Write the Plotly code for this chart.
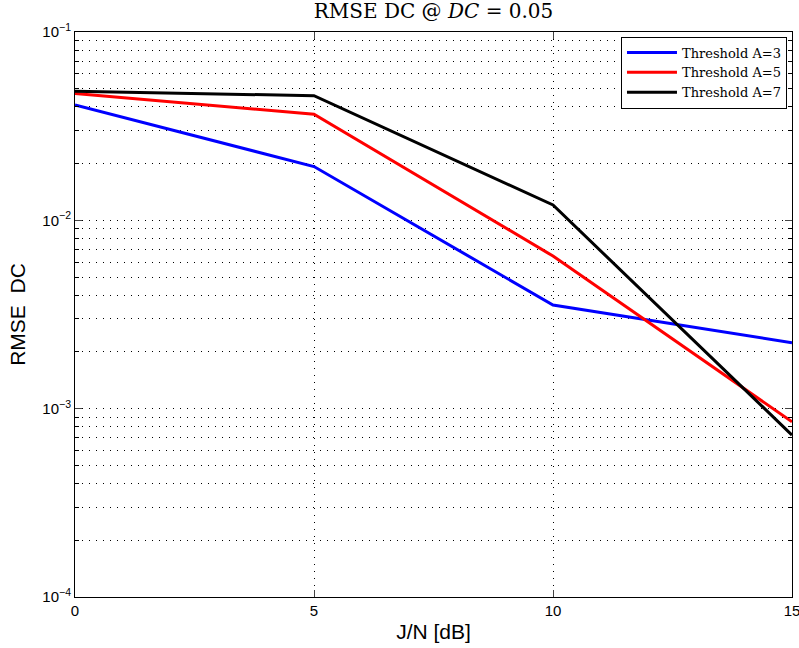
import plotly.graph_objects as go

x_vals = [0, 5, 10, 15]
blue_a3 = [0.0410, 0.0193, 0.00355, 0.00224]
red_a5 = [0.0472, 0.0366, 0.00646, 0.000852]
black_a7 = [0.0484, 0.0459, 0.01206, 0.000724]
series_names = ["Threshold A=3", "Threshold A=5", "Threshold A=7"]
colors = ["#0000ff", "#ff0000", "#000000"]
x_ticks = [0, 5, 10, 15]
y_ticks = [1e-4, 1e-3, 1e-2, 1e-1]
y_tick_text = ["10<sup>−4</sup>", "10<sup>−3</sup>", "10<sup>−2</sup>", "10<sup>−1</sup>"]
y_minor = [m * 10 ** e for e in (-4, -3, -2) for m in range(2, 10)]

fig = go.Figure()
for name, ys, c in zip(series_names, [blue_a3, red_a5, black_a7], colors):
    fig.add_trace(go.Scatter(x=x_vals, y=ys, mode="lines", name=name,
                             line=dict(color=c, width=3)))

grid_dash = "1px 6px"
serif = "DejaVu Serif, Liberation Serif, serif"
fig.update_layout(
    width=799, height=648,
    margin=dict(l=75, r=7, t=32, b=51, autoexpand=False),
    plot_bgcolor="white", paper_bgcolor="white",
    title=dict(text="RMSE DC @ <i>DC</i> = 0.05", x=0.5, xanchor="center",
               xref="paper", y=1, yref="container", yanchor="top", pad=dict(t=4),
               font=dict(family=serif, size=20, color="black")),
    legend=dict(x=0.993, y=0.992, xanchor="right", yanchor="top",
                bgcolor="white", bordercolor="black", borderwidth=1,
                font=dict(family=serif, size=13, color="black"),
                tracegroupgap=0, itemwidth=50),
    font=dict(family="Liberation Sans, Arial, sans-serif", color="black"),
    showlegend=True,
)
fig.update_xaxes(range=[0, 15], tickvals=x_ticks, ticks="inside", ticklen=7,
                 showline=True, linecolor="black", linewidth=1, mirror="ticks",
                 showgrid=True, gridcolor="black", gridwidth=1, griddash=grid_dash,
                 zeroline=False, tickfont=dict(size=15), automargin=False,
                 ticklabeloverflow="allow",
                 title=dict(text="J/N [dB]", font=dict(size=21), standoff=6))
fig.update_yaxes(type="log", range=[-4, -1], tickvals=y_ticks, ticktext=y_tick_text,
                 ticks="inside", ticklen=7,
                 showline=True, linecolor="black", linewidth=1, mirror="ticks",
                 showgrid=True, gridcolor="black", gridwidth=1, griddash=grid_dash,
                 zeroline=False, tickfont=dict(size=15), automargin=False,
                 minor=dict(tickmode="array", tickvals=y_minor, ticks="inside", ticklen=4,
                            showgrid=True, gridcolor="black", gridwidth=1,
                            griddash=grid_dash, tickcolor="black"),
                 title=dict(text="RMSE  DC", font=dict(size=21), standoff=10))

fig.write_html("out.html")
